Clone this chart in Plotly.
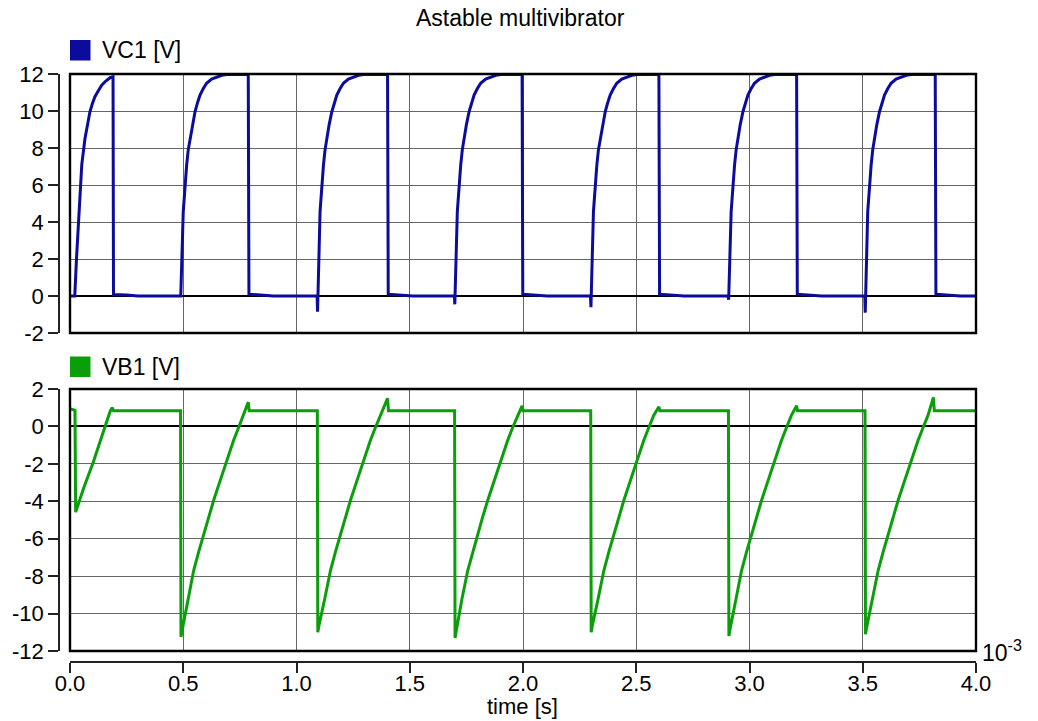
import plotly.graph_objects as go

# ---- values (time in units of 1e-3 s) ----
# VC1: first (partial) charging cycle, read point by point
vc1_first_t = [0.000, 0.021, 0.029, 0.037, 0.045, 0.052, 0.066, 0.077, 0.088, 0.099, 0.110, 0.125,
               0.140, 0.158, 0.177, 0.190, 0.192, 0.250, 0.300]
vc1_first_v = [0.00, 0.00, 2.10, 4.00, 5.70, 7.10, 8.50, 9.30, 9.96, 10.40, 10.77, 11.10,
               11.40, 11.62, 11.80, 11.85, 0.08, 0.05, 0.00]
# VC1: shape of each later rise, time after the switching edge
vc1_rise_dt = [0.010, 0.018, 0.025, 0.032, 0.040, 0.050, 0.062, 0.073, 0.084, 0.098, 0.113,
               0.135, 0.158, 0.180, 0.202]
vc1_rise_v = [4.56, 6.00, 7.08, 7.90, 8.52, 9.25, 9.96, 10.45, 10.86, 11.20, 11.50,
              11.72, 11.85, 11.93, 11.97]
vc1_high = 11.98
# switching edges of the later cycles
edge_rise = [0.490, 1.094, 1.700, 2.301, 2.909, 3.512]
edge_fall = [0.788, 1.403, 1.997, 2.601, 3.209, 3.821]
vc1_dip = [0.00, -0.85, -0.45, -0.60, -0.20, -0.90]

# VB1: first cycle read point by point
vb1_first_t = [0.000, 0.012, 0.022, 0.025, 0.060, 0.103, 0.140, 0.177, 0.186, 0.192]
vb1_first_v = [0.95, 0.90, 0.86, -4.58, -3.30, -1.90, -0.50, 0.80, 1.00, 0.84]
vb1_flat = 0.84
# VB1: recovery ramp, time after the drop
vb1_ramp_dt = [0.030, 0.056, 0.078, 0.100, 0.122, 0.144, 0.166, 0.188, 0.210, 0.232, 0.254, 0.276]
vb1_ramp_v = [-9.25, -7.70, -6.70, -5.74, -4.83, -3.96, -3.15, -2.35, -1.53, -0.75, -0.07, 0.59]
vb1_bottom = [-11.25, -11.00, -11.30, -11.00, -11.20, -11.10]
vb1_spike_t = [0.787, 1.402, 1.996, 2.600, 3.208, 3.812]
vb1_spike_v = [1.30, 1.50, 1.10, 1.05, 1.10, 1.55]

x_ticks = [0.0, 0.5, 1.0, 1.5, 2.0, 2.5, 3.0, 3.5, 4.0]
x_ticktext = ["0.0", "0.5", "1.0", "1.5", "2.0", "2.5", "3.0", "3.5", "4.0"]
top_ticks = [-2, 0, 2, 4, 6, 8, 10, 12]
top_ticktext = ["-2", "0", "2", "4", "6", "8", "10", "12"]
bot_ticks = [-12, -10, -8, -6, -4, -2, 0, 2]
bot_ticktext = ["-12", "-10", "-8", "-6", "-4", "-2", "0", "2"]

# ---- assemble the traces from the read values ----
vc1_t = list(vc1_first_t)
vc1_v = list(vc1_first_v)
for r, f, d in zip(edge_rise, edge_fall, vc1_dip):
    vc1_t += [r - 0.003, r - 0.001]
    vc1_v += [0.0, d]
    vc1_t += [r + dt for dt in vc1_rise_dt]
    vc1_v += vc1_rise_v
    vc1_t += [f - 0.001, f + 0.002, f + 0.060, f + 0.110]
    vc1_v += [vc1_high, 0.10, 0.05, 0.0]
vc1_t.append(4.0)
vc1_v.append(0.0)

vb1_t = list(vb1_first_t)
vb1_v = list(vb1_first_v)
for r, b, st, sv in zip(edge_rise, vb1_bottom, vb1_spike_t, vb1_spike_v):
    vb1_t += [r - 0.002, r, r + 0.005]
    vb1_v += [vb1_flat, b, b + 0.35]
    vb1_t += [r + dt for dt in vb1_ramp_dt]
    vb1_v += vb1_ramp_v
    vb1_t += [st, st + 0.004]
    vb1_v += [sv, vb1_flat]
vb1_t.append(4.0)
vb1_v.append(vb1_flat)

BLUE = "#0c0c9c"
GREEN = "#0a9e0a"
FONT = "Liberation Sans, Arial, sans-serif"
GRID = "#666666"

W, H = 1038, 721
ML, MR, MT, MB = 59, 62, 74, 59
PW = W - ML - MR
PH = H - MT - MB


def px(x):
    return (x - ML) / PW


def py(y):
    return (H - MB - y) / PH


xd = [px(70), 1.0]
top_dom = [py(333), 1.0]
bot_dom = [py(651), py(389)]

fig = go.Figure()
fig.add_trace(go.Scatter(x=vc1_t, y=vc1_v, mode="lines", xaxis="x2", yaxis="y",
                         line=dict(color=BLUE, width=3), showlegend=False))
fig.add_trace(go.Scatter(x=vb1_t, y=vb1_v, mode="lines", xaxis="x", yaxis="y2",
                         line=dict(color=GREEN, width=3), showlegend=False))

common_y = dict(showgrid=True, gridcolor=GRID, gridwidth=1, zeroline=True, zerolinecolor="black",
                zerolinewidth=2, showline=True, linecolor="#222", linewidth=1.5, ticks="outside",
                ticklen=10, tickwidth=1.5, tickcolor="#222", anchor="free", position=0,
                tickfont=dict(family=FONT, size=22, color="black"), fixedrange=True)

fig.update_layout(
    width=W, height=H,
    margin=dict(l=ML, r=MR, t=MT, b=MB, pad=0),
    paper_bgcolor="white", plot_bgcolor="white",
    showlegend=False,
    xaxis=dict(domain=xd, range=[0, 4.0], anchor="free", position=0, tickmode="array",
               tickvals=x_ticks, ticktext=x_ticktext, showgrid=True, gridcolor=GRID, gridwidth=1,
               zeroline=False, showline=True, linecolor="#222", linewidth=1.5, ticks="outside",
               ticklen=10, tickwidth=1.5, tickcolor="#222", ticklabelstandoff=-8,
               tickfont=dict(family=FONT, size=22, color="black")),
    xaxis2=dict(domain=xd, range=[0, 4.0], anchor="y", matches="x", tickmode="array",
                tickvals=x_ticks, showticklabels=False, showgrid=True, gridcolor=GRID, gridwidth=1,
                zeroline=False, showline=False, ticks=""),
    yaxis=dict(domain=top_dom, range=[-2, 12], tickmode="array", tickvals=top_ticks,
               ticktext=top_ticktext, **common_y),
    yaxis2=dict(domain=bot_dom, range=[-12, 2], tickmode="array", tickvals=bot_ticks,
                ticktext=bot_ticktext, **common_y),
)

shapes = [
    dict(type="rect", xref="paper", yref="paper", x0=xd[0], x1=xd[1], y0=top_dom[0], y1=top_dom[1],
         line=dict(color="black", width=2.4), fillcolor="rgba(0,0,0,0)", layer="above"),
    dict(type="rect", xref="paper", yref="paper", x0=xd[0], x1=xd[1], y0=bot_dom[0], y1=bot_dom[1],
         line=dict(color="black", width=2.4), fillcolor="rgba(0,0,0,0)", layer="above"),
    dict(type="rect", xref="paper", yref="paper", x0=px(70), x1=px(90.5), y0=py(60.5), y1=py(40),
         line=dict(width=0), fillcolor=BLUE),
    dict(type="rect", xref="paper", yref="paper", x0=px(70), x1=px(90.5), y0=py(377), y1=py(356.5),
         line=dict(width=0), fillcolor=GREEN),
]
fig.update_layout(shapes=shapes)

annos = [
    dict(text="Astable multivibrator", x=px(520), y=py(18), size=23),
    dict(text="VC1 [V]", x=px(100), y=py(50), size=23, xanchor="left"),
    dict(text="VB1 [V]", x=px(100), y=py(367), size=23, xanchor="left"),
    dict(text="time [s]", x=px(522), y=py(706), size=22),
    dict(text="10<sup>-3</sup>", x=px(980), y=py(651), size=23, xanchor="left"),
]
for a in annos:
    fig.add_annotation(text=a["text"], x=a["x"], y=a["y"], xref="paper", yref="paper",
                       xanchor=a.get("xanchor", "center"), yanchor="middle", showarrow=False,
                       font=dict(family=FONT, size=a["size"], color="black"))

fig.write_html("out.html", config={"displayModeBar": False},
               post_script="document.body.style.margin='0';document.body.style.overflow='hidden';")
